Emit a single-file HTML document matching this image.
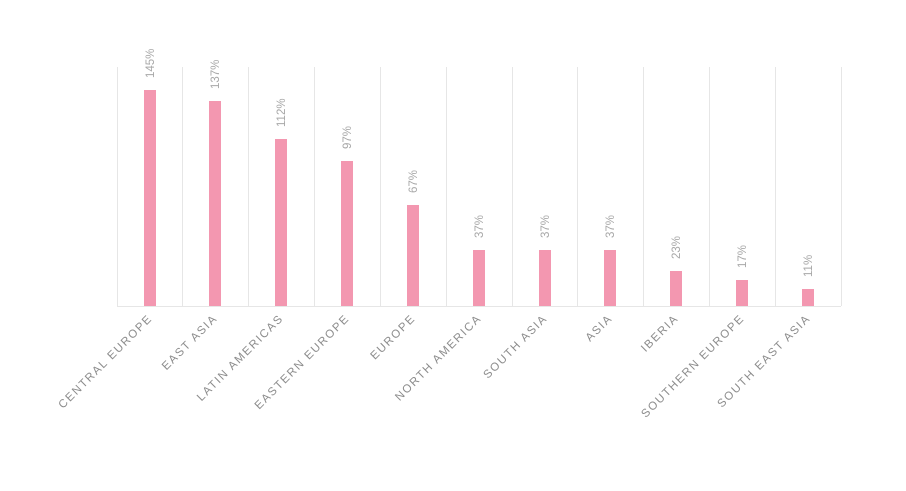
<!DOCTYPE html>
<html><head><style>html,body{margin:0;padding:0;background:#fff;}svg{display:block}</style></head>
<body>
<svg width="906" height="491" xmlns="http://www.w3.org/2000/svg" font-family="Liberation Sans, sans-serif">
<rect width="906" height="491" fill="#fff"/>
<g stroke="#e6e6e6" stroke-width="1">
<line x1="117.5" y1="67" x2="117.5" y2="306"/><line x1="182.5" y1="67" x2="182.5" y2="306"/><line x1="248.5" y1="67" x2="248.5" y2="306"/><line x1="314.5" y1="67" x2="314.5" y2="306"/><line x1="380.5" y1="67" x2="380.5" y2="306"/><line x1="446.5" y1="67" x2="446.5" y2="306"/><line x1="512.5" y1="67" x2="512.5" y2="306"/><line x1="577.5" y1="67" x2="577.5" y2="306"/><line x1="643.5" y1="67" x2="643.5" y2="306"/><line x1="709.5" y1="67" x2="709.5" y2="306"/><line x1="775.5" y1="67" x2="775.5" y2="306"/><line x1="841.5" y1="67" x2="841.5" y2="306"/>
<line x1="117" y1="306.5" x2="841" y2="306.5"/>
</g>
<g fill="#f397b0">
<rect x="144" y="90" width="12" height="216"/>
<rect x="209" y="101" width="12" height="205"/>
<rect x="275" y="139" width="12" height="167"/>
<rect x="341" y="161" width="12" height="145"/>
<rect x="407" y="205" width="12" height="101"/>
<rect x="473" y="250" width="12" height="56"/>
<rect x="539" y="250" width="12" height="56"/>
<rect x="604" y="250" width="12" height="56"/>
<rect x="670" y="271" width="12" height="35"/>
<rect x="736" y="280" width="12" height="26"/>
<rect x="802" y="289" width="12" height="17"/>
</g>
<g fill="#a8a8a8" font-size="11.5" text-anchor="start">
<text transform="translate(154,78) rotate(-90)">145%</text>
<text transform="translate(219,89) rotate(-90)">137%</text>
<text transform="translate(285,127) rotate(-90)">112%</text>
<text transform="translate(351,149) rotate(-90)">97%</text>
<text transform="translate(417,193) rotate(-90)">67%</text>
<text transform="translate(483,238) rotate(-90)">37%</text>
<text transform="translate(549,238) rotate(-90)">37%</text>
<text transform="translate(614,238) rotate(-90)">37%</text>
<text transform="translate(680,259) rotate(-90)">23%</text>
<text transform="translate(746,268) rotate(-90)">17%</text>
<text transform="translate(812,277) rotate(-90)">11%</text>
</g>
<g fill="#8c8c8c" font-size="11.5" text-anchor="end" letter-spacing="1.6">
<text transform="translate(153,319) rotate(-45)">CENTRAL EUROPE</text>
<text transform="translate(218,319) rotate(-45)">EAST ASIA</text>
<text transform="translate(284,319) rotate(-45)">LATIN AMERICAS</text>
<text transform="translate(350,319) rotate(-45)">EASTERN EUROPE</text>
<text transform="translate(416,319) rotate(-45)">EUROPE</text>
<text transform="translate(482,319) rotate(-45)">NORTH AMERICA</text>
<text transform="translate(548,319) rotate(-45)">SOUTH ASIA</text>
<text transform="translate(613,319) rotate(-45)">ASIA</text>
<text transform="translate(679,319) rotate(-45)">IBERIA</text>
<text transform="translate(745,319) rotate(-45)">SOUTHERN EUROPE</text>
<text transform="translate(811,319) rotate(-45)">SOUTH EAST ASIA</text>
</g>
</svg>
</body></html>
